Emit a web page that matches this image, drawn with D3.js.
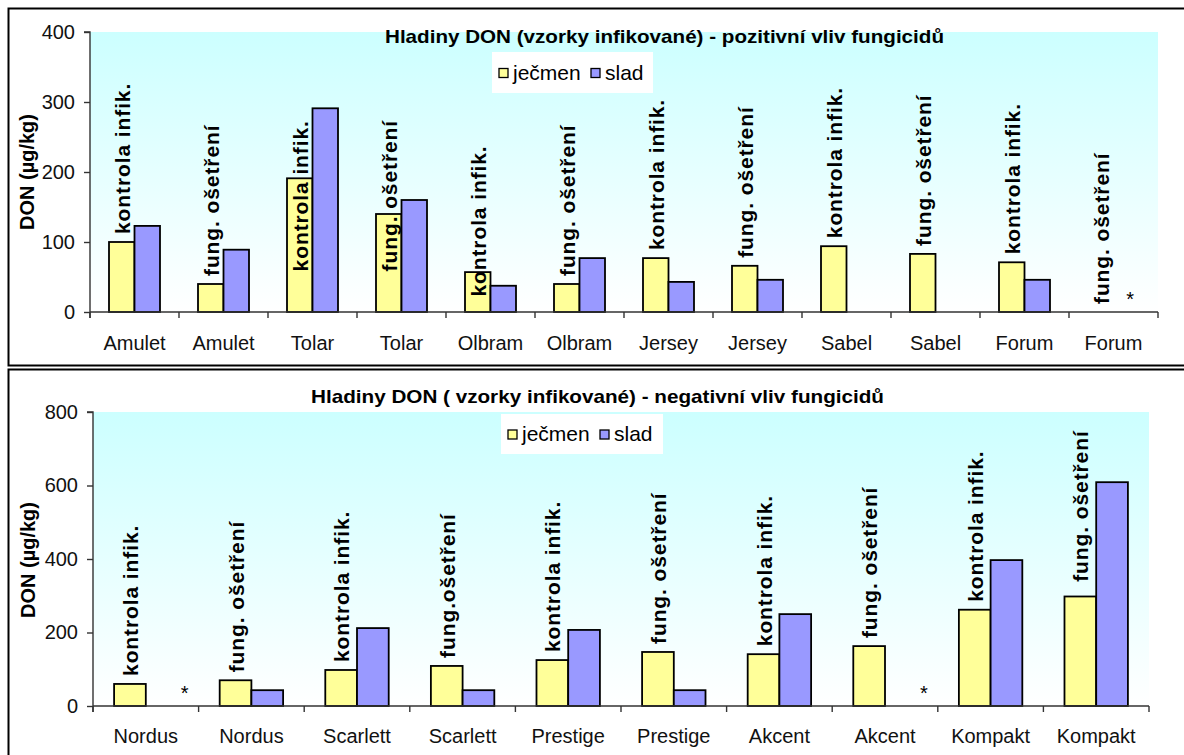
<!DOCTYPE html>
<html>
<head>
<meta charset="utf-8">
<script src="https://cdn.jsdelivr.net/npm/d3@7"></script>
<style>
  html, body { margin: 0; padding: 0; background: #ffffff; }
  svg { display: block; font-family: "Liberation Sans", Arial, sans-serif; }
</style>
</head>
<body>
<svg id="chart" width="1184" height="755"></svg>
<script>
// ---------- DATA ----------
const seriesNames = ["ječmen", "slad"];

const topTitle = "Hladiny DON (vzorky infikované) - pozitivní vliv fungicidů";
const topCategories = ["Amulet", "Amulet", "Tolar", "Tolar", "Olbram", "Olbram", "Jersey", "Jersey", "Sabel", "Sabel", "Forum", "Forum"];
const topJecmen = [100, 40, 191, 140, 57, 40, 77, 66, 94, 83, 71, null];
const topSlad = [123, 89, 291, 160, 37.5, 77, 43, 46, null, null, 46, "*"];
const topNotes = ["kontrola infik.", "fung. ošetření", "kontrola infik.", "fung. ošetření", "kontrola infik.", "fung. ošetření",
                  "kontrola infik.", "fung. ošetření", "kontrola infik.", "fung. ošetření", "kontrola infik.", "fung. ošetření"];
const topNoteAt = [null, null, 58, 58, 22, null, null, null, null, null, null, null];
const topTicks = [0, 100, 200, 300, 400];

const botTitle = "Hladiny DON ( vzorky infikované) - negativní vliv fungicidů";
const botCategories = ["Nordus", "Nordus", "Scarlett", "Scarlett", "Prestige", "Prestige", "Akcent", "Akcent", "Kompakt", "Kompakt"];
const botJecmen = [60, 70, 98, 109, 125, 147, 141, 163, 262, 298];
const botSlad = ["*", 43, 212, 43, 207, 43, 250, "*", 397, 609];
const botNotes = ["kontrola infik.", "fung. ošetření", "kontrola infik.", "fung.ošetření", "kontrola infik.", "fung. ošetření",
                  "kontrola infik.", "fung. ošetření", "kontrola infik.", "fung. ošetření"];
const botNoteAt = [null, null, null, null, null, null, null, null, null, 338];
const botTicks = [0, 200, 400, 600, 800];

const yTitle = "DON (µg/kg)";

// ---------- STYLE ----------
const colJecmen = "#ffff99";
const colSlad = "#9999ff";

const svg = d3.select("#chart");
const defs = svg.append("defs");
const grad = defs.append("linearGradient").attr("id", "bg").attr("x1", 0).attr("y1", 0).attr("x2", 0).attr("y2", 1);
grad.append("stop").attr("offset", "0%").attr("stop-color", "#ccffff");
grad.append("stop").attr("offset", "100%").attr("stop-color", "#ffffff");

function drawChart(cfg) {
  const g = svg.append("g");
  // outer frame
  g.append("rect")
    .attr("x", cfg.frame[0]).attr("y", cfg.frame[1])
    .attr("width", cfg.frame[2]).attr("height", cfg.frame[3])
    .attr("fill", "#fff").attr("stroke", "#000").attr("stroke-width", 2);

  const x = d3.scaleBand().domain(d3.range(cfg.categories.length)).range([cfg.left, cfg.right]).padding(0);
  const xs = d3.scaleBand().domain(seriesNames).range([0, x.bandwidth()]).paddingInner(0).paddingOuter(cfg.outerPad);
  const y = d3.scaleLinear().domain(cfg.domain).range([cfg.bottom, cfg.top]);

  // plot background
  g.append("rect")
    .attr("x", cfg.left).attr("y", cfg.top)
    .attr("width", cfg.right - cfg.left).attr("height", cfg.bottom - cfg.top)
    .attr("fill", "url(#bg)");

  // title
  g.append("text")
    .attr("x", cfg.titleX).attr("y", cfg.titleY)
    .attr("font-size", 19).attr("font-weight", "bold").attr("fill", "#000")
    .attr("textLength", cfg.titleLen).attr("lengthAdjust", "spacingAndGlyphs")
    .text(cfg.title);

  // legend
  const lg = g.append("g").attr("transform", `translate(${cfg.legend[0]},${cfg.legend[1]})`);
  lg.append("rect").attr("width", cfg.legend[2]).attr("height", cfg.legend[3]).attr("fill", "#fff");
  const legItems = [{name: seriesNames[0], color: colJecmen, dx: 7}, {name: seriesNames[1], color: colSlad, dx: 99}];
  legItems.forEach(it => {
    lg.append("rect").attr("x", it.dx).attr("y", cfg.legend[3] / 2 - 4)
      .attr("width", 9).attr("height", 9)
      .attr("fill", it.color).attr("stroke", "#000").attr("stroke-width", 1.3);
    lg.append("text").attr("x", it.dx + 14).attr("y", cfg.legend[3] / 2 + 7)
      .attr("font-size", 21).attr("fill", "#000").text(it.name);
  });

  // bars
  const series = [
    {name: seriesNames[0], values: cfg.jecmen, color: colJecmen},
    {name: seriesNames[1], values: cfg.slad, color: colSlad}
  ];
  series.forEach(s => {
    s.values.forEach((v, i) => {
      if (typeof v === "number") {
        g.append("rect")
          .attr("x", x(i) + xs(s.name)).attr("y", y(v))
          .attr("width", xs.bandwidth()).attr("height", y(0) - y(v))
          .attr("fill", s.color).attr("stroke", "#000").attr("stroke-width", 1.8);
      } else if (v === "*") {
        g.append("text")
          .attr("x", x(i) + xs(s.name) + xs.bandwidth() / 2 + cfg.starDx)
          .attr("y", y(0) - 6)
          .attr("text-anchor", "middle").attr("font-size", 20).attr("fill", "#000")
          .text("*");
      }
    });
  });

  // y axis
  const yAxis = d3.axisLeft(y).tickValues(cfg.ticks).tickSize(6).tickPadding(9).tickFormat(d3.format("d"));
  const ya = g.append("g").attr("transform", `translate(${cfg.left},0)`).call(yAxis);
  ya.select(".domain").attr("stroke", "#333").attr("stroke-width", 1.4).attr("d", `M-6,${cfg.top}H0V${cfg.bottom + 6}`);
  ya.selectAll(".tick line").attr("stroke", "#333").attr("stroke-width", 1.4);
  ya.selectAll(".tick text").attr("font-size", 20).attr("fill", "#111").attr("font-family", "Liberation Sans, Arial, sans-serif");

  // x axis
  const xg = g.append("g").attr("transform", `translate(0,${cfg.bottom})`);
  xg.append("line").attr("x1", cfg.left).attr("x2", cfg.right).attr("stroke", "#333").attr("stroke-width", 1.4);
  d3.range(cfg.categories.length + 1).forEach(i => {
    const px = i < cfg.categories.length ? x(i) : cfg.right;
    xg.append("line").attr("x1", px).attr("x2", px).attr("y1", 0).attr("y2", 6)
      .attr("stroke", "#333").attr("stroke-width", 1.4);
  });
  cfg.categories.forEach((c, i) => {
    xg.append("text")
      .attr("x", x(i) + x.bandwidth() / 2).attr("y", cfg.catDy)
      .attr("text-anchor", "middle").attr("font-size", 20).attr("fill", "#111")
      .text(c);
  });

  // notes (vertical labels above ječmen bars)
  cfg.notes.forEach((t, i) => {
    const cx = x(i) + xs(seriesNames[0]) + xs.bandwidth() / 2;
    const v = cfg.jecmen[i];
    const baseY = cfg.noteAt[i] != null ? y(cfg.noteAt[i]) : (typeof v === "number" ? y(v) : y(0)) - 8;
    g.append("text")
      .attr("transform", `translate(${cx + 8},${baseY}) rotate(-90)`)
      .attr("font-size", 21).attr("font-weight", "bold").attr("letter-spacing", 0.9)
      .attr("fill", "#000")
      .text(t);
  });

  // y title
  g.append("text")
    .attr("transform", `translate(${cfg.yTitleX},${cfg.yTitleY}) rotate(-90)`)
    .attr("text-anchor", "middle").attr("font-size", 20).attr("font-weight", "bold").attr("fill", "#000")
    .text(yTitle);
}

drawChart({
  frame: [8.5, 8.5, 1190, 357], left: 90, right: 1158, top: 32, bottom: 312, domain: [0, 400], outerPad: 0.745,
  categories: topCategories, jecmen: topJecmen, slad: topSlad, notes: topNotes, noteAt: topNoteAt, ticks: topTicks,
  title: topTitle, titleX: 385, titleY: 43, titleLen: 559, legend: [492, 52, 161, 41], catDy: 38, starDx: 4,
  yTitleX: 34, yTitleY: 172
});

drawChart({
  frame: [8.5, 369.5, 1190, 400], left: 93, right: 1149, top: 412, bottom: 706, domain: [0, 800], outerPad: 0.665,
  categories: botCategories, jecmen: botJecmen, slad: botSlad, notes: botNotes, noteAt: botNoteAt, ticks: botTicks,
  title: botTitle, titleX: 311, titleY: 403, titleLen: 573, legend: [501, 414, 162, 40], catDy: 37, starDx: 23,
  yTitleX: 35, yTitleY: 560
});
</script>
</body>
</html>
